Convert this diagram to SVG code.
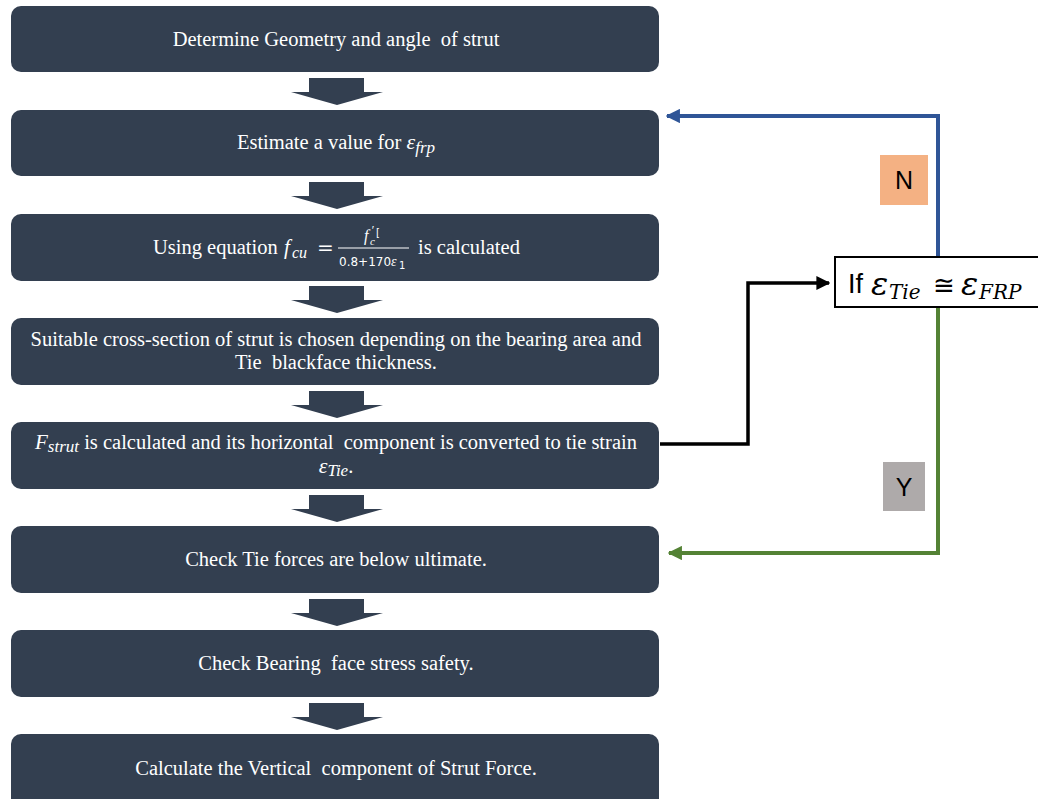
<svg xmlns="http://www.w3.org/2000/svg" width="1038" height="799" viewBox="0 0 1038 799">
<style>
.box{fill:#333F50;}
.dn{fill:#333F50;}
.t{font-family:"Liberation Serif","Times New Roman",serif;font-size:20.5px;fill:#FFFFFF;text-anchor:middle;white-space:pre;}
.ts{font-family:"Liberation Serif","Times New Roman",serif;font-size:20.5px;fill:#FFFFFF;white-space:pre;}
.m{font-family:"Liberation Serif","Times New Roman",serif;font-style:italic;fill:#FFFFFF;}
.ms{font-family:"DejaVu Sans","Liberation Sans",sans-serif;fill:#FFFFFF;}
.lbl{font-family:"Liberation Sans","Open Sans",sans-serif;font-size:25px;fill:#000000;text-anchor:middle;}
.dm{font-family:"DejaVu Serif","Liberation Serif",serif;font-style:italic;fill:#000000;}
</style>
<defs>
<marker id="ab" viewBox="0 0 10 10" refX="9" refY="5" markerWidth="3.6" markerHeight="3.6" orient="auto" markerUnits="strokeWidth"><path d="M0,0 L10,5 L0,10 z" fill="#2F5597"/></marker>
<marker id="ag" viewBox="0 0 10 10" refX="9" refY="5" markerWidth="3.6" markerHeight="3.6" orient="auto" markerUnits="strokeWidth"><path d="M0,0 L10,5 L0,10 z" fill="#548235"/></marker>
<marker id="ak" viewBox="0 0 10 10" refX="9" refY="5" markerWidth="4" markerHeight="4" orient="auto" markerUnits="strokeWidth"><path d="M0,0 L10,5 L0,10 z" fill="#000000"/></marker>
<path id="darr" d="M-27,0 H28 V14 H47 L1,27 L-45,14 H-27 Z"/>
</defs>
<rect width="1038" height="799" fill="#FFFFFF"/>

<g id="flow-arrows">
<use href="#darr" class="dn" x="336" y="78"/>
<use href="#darr" class="dn" x="336" y="182"/>
<use href="#darr" class="dn" x="336" y="286"/>
<use href="#darr" class="dn" x="336" y="391"/>
<use href="#darr" class="dn" x="336" y="495"/>
<use href="#darr" class="dn" x="336" y="599"/>
<use href="#darr" class="dn" x="336" y="703"/>
</g>

<g id="n1"><rect class="box" x="11" y="6" width="648" height="66" rx="10"/>
<text class="t" x="336" y="46">Determine Geometry and angle  of strut</text></g>

<g id="n2"><rect class="box" x="11" y="110" width="648" height="66" rx="10"/>
<text class="t" x="336" y="149">Estimate a value for <tspan class="m" font-size="22">ε</tspan><tspan class="m" font-size="17" dy="4">frp</tspan></text></g>

<g id="n3"><rect class="box" x="11" y="214" width="648" height="67" rx="10"/>
<text class="ts" x="153" y="254">Using equation</text>
<text class="m" x="284" y="254" font-size="21">f</text>
<text class="m" x="292" y="258" font-size="16">cu</text>
<text class="ms" x="317" y="254" font-size="20">=</text>
<line x1="338" y1="248" x2="409" y2="248" stroke="#FFFFFF" stroke-width="1.2"/>
<text class="m" x="364" y="241" font-size="16">f</text>
<text class="m" x="371" y="234" font-size="12">′</text>
<text class="m" x="370" y="245" font-size="11">c</text>
<text class="ms" x="376" y="236" font-size="10">[</text>
<text class="ms" x="339" y="266" font-size="12">0.8+170</text>
<text class="m" x="391" y="266" font-size="14">ε</text>
<text class="ms" x="399" y="269" font-size="10">1</text>
<text class="ts" x="418" y="254">is calculated</text></g>

<g id="n4"><rect class="box" x="11" y="318" width="648" height="67" rx="10"/>
<text class="t" x="336" y="346">Suitable cross-section of strut is chosen depending on the bearing area and</text>
<text class="t" x="336" y="369">Tie  blackface thickness.</text></g>

<g id="n5"><rect class="box" x="11" y="422" width="648" height="67" rx="10"/>
<text class="t" x="336" y="449"><tspan class="m" font-size="21">F</tspan><tspan class="m" font-size="17" dy="3">strut</tspan><tspan dy="-3"> is calculated and its horizontal  component is converted to tie strain</tspan></text>
<text class="t" x="336" y="473"><tspan class="m" font-size="22">ε</tspan><tspan class="m" font-size="17" dy="3">Tie</tspan><tspan dy="-3">.</tspan></text></g>

<g id="n6"><rect class="box" x="11" y="526" width="648" height="67" rx="10"/>
<text class="t" x="336" y="566">Check Tie forces are below ultimate.</text></g>

<g id="n7"><rect class="box" x="11" y="630" width="648" height="67" rx="10"/>
<text class="t" x="336" y="670">Check Bearing  face stress safety.</text></g>

<g id="n8"><rect class="box" x="11" y="734" width="648" height="76" rx="10"/>
<text class="t" x="336" y="775">Calculate the Vertical  component of Strut Force.</text></g>

<g id="connectors" fill="none">
<polyline points="938,257 938,116 667,116" stroke="#2F5597" stroke-width="4" marker-end="url(#ab)"/>
<polyline points="938,307 938,553 669,553" stroke="#548235" stroke-width="4" marker-end="url(#ag)"/>
<polyline points="660,444 748,444 748,283 829,283" stroke="#000000" stroke-width="3.5" marker-end="url(#ak)"/>
</g>

<g id="decision">
<rect x="835" y="257" width="210" height="50" fill="#FFFFFF" stroke="#000000" stroke-width="2"/>
<text x="848" y="293" font-family="Liberation Sans, Open Sans, sans-serif" font-size="27" fill="#000000">If</text>
<text class="dm" x="871" y="295" font-size="32">ε</text>
<text class="dm" x="889" y="299" font-size="20">Tie</text>
<text x="933" y="294" font-family="DejaVu Sans, sans-serif" font-size="26" fill="#000000">≅</text>
<text class="dm" x="961" y="295" font-size="32">ε</text>
<text class="dm" x="979" y="299" font-size="20">FRP</text>
</g>

<g id="label-n">
<rect x="880" y="155" width="48" height="50" fill="#F4B183"/>
<text class="lbl" x="904" y="189">N</text>
</g>
<g id="label-y">
<rect x="883" y="462" width="42" height="49" fill="#AEAAAA"/>
<text class="lbl" x="904" y="496">Y</text>
</g>
</svg>
